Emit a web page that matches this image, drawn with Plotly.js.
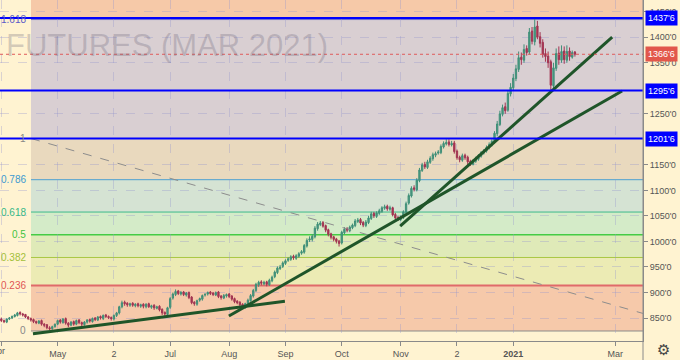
<!DOCTYPE html>
<html><head><meta charset="utf-8">
<script src="https://cdn.plot.ly/plotly-3.0.1.min.js"></script>
<style>html,body{margin:0;padding:0;background:#fff3d1;}#c{width:680px;height:360px;}</style>
</head><body><div id="c"></div>
<script>
// Daily OHLC, bar index 0 = 1 Apr 2020
const opens = [848,845,842,848,850,853,855,861,858,857,852,849,847,843,840,845,838,837,831,829,833,838,846,841,849,840,836,843,838,846,841,837,842,847,843,850,846,853,849,856,853,851,848,855,860,872,881,879,875,879,874,878,873,877,872,878,871,875,869,873,867,861,857,871,889,896,903,897,901,895,900,891,881,877,885,887,895,897,901,899,895,901,893,889,893,897,893,888,883,881,877,871,877,884,893,904,915,921,917,921,915,923,931,939,947,951,957,963,965,971,967,971,977,979,991,1003,1004,1009,1025,1033,1037,1031,1023,1015,1009,1005,1001,997,1017,1025,1021,1027,1031,1039,1043,1037,1031,1037,1045,1055,1049,1055,1059,1065,1069,1063,1066,1053,1047,1043,1047,1057,1075,1089,1105,1101,1119,1139,1151,1145,1155,1162,1169,1173,1174,1185,1191,1195,1189,1193,1177,1165,1159,1169,1165,1157,1151,1157,1161,1167,1173,1177,1183,1189,1195,1211,1229,1249,1264,1257,1289,1301,1319,1337,1361,1355,1378,1371,1412,1391,1422,1401,1390,1368,1363,1352,1305,1339,1369,1355,1373,1355,1373,1361,1371];
const highs = [851,847,849,852,855,858,862,863,860,858,854,851,849,845,846,847,840,838,834,835,839,847,848,850,851,842,844,845,847,848,843,844,848,849,851,852,854,855,857,858,855,853,857,862,874,884,884,881,880,881,879,880,878,879,879,880,876,877,874,875,869,863,872,891,900,906,905,903,903,901,902,893,883,886,890,896,899,902,903,901,902,903,895,897,898,899,895,890,885,883,879,880,888,897,907,919,923,924,923,923,927,933,943,951,954,961,965,969,973,974,975,979,983,995,1006,1010,1014,1030,1038,1040,1040,1033,1025,1017,1011,1007,1003,1021,1028,1028,1031,1035,1044,1046,1046,1040,1042,1050,1058,1058,1059,1064,1069,1072,1072,1070,1068,1056,1050,1051,1061,1078,1094,1108,1110,1124,1144,1154,1156,1160,1167,1174,1176,1179,1190,1196,1200,1200,1197,1197,1180,1168,1172,1172,1168,1160,1161,1166,1171,1177,1181,1188,1194,1200,1216,1236,1256,1268,1272,1296,1310,1328,1346,1372,1370,1386,1384,1418,1420,1437.6,1432,1410,1396,1378,1372,1356,1350,1378,1382,1384,1382,1384,1380,1374,1373];
const lows = [842,840,840,846,848,851,853,855,853,850,846,843,840,838,838,835,832,828,826,827,831,836,839,839,837,832,834,835,836,838,834,835,839,841,841,844,844,847,846,850,848,845,845,852,857,869,874,872,872,872,871,871,870,869,869,870,868,866,867,863,856,854,855,868,886,893,895,894,893,892,887,877,874,874,882,884,892,894,895,893,893,889,886,887,890,889,884,879,877,873,869,868,874,882,890,901,911,914,914,912,913,920,928,936,944,948,954,960,962,964,964,968,974,976,988,999,1000,1006,1021,1030,1027,1018,1010,1004,1000,996,990,994,1014,1018,1018,1024,1028,1036,1032,1028,1028,1034,1042,1046,1046,1052,1056,1062,1060,1060,1049,1042,1040,1040,1044,1054,1072,1086,1098,1098,1116,1136,1142,1142,1152,1158,1165,1170,1171,1182,1188,1186,1186,1172,1160,1155,1156,1160,1150,1148,1149,1154,1158,1164,1170,1174,1180,1186,1192,1206,1226,1245,1250,1254,1284,1296,1314,1332,1346,1350,1364,1366,1386,1384,1396,1380,1360,1352,1340,1296,1300,1334,1346,1350,1348,1350,1354,1358,1362];
const closes = [845,843,848,850,853,856,860,858,856,852,849,846,843,841,844,838,836,831,829,833,838,845,842,848,840,836,842,838,845,841,838,842,846,844,849,847,852,850,855,853,851,849,855,860,872,880,878,876,878,875,877,874,876,873,877,872,874,870,872,866,860,858,870,888,897,902,898,900,896,899,890,880,878,884,888,894,896,900,898,896,900,892,890,894,896,892,887,882,880,876,872,878,885,894,904,916,920,918,920,916,924,930,940,948,950,958,962,966,970,968,972,976,980,992,1002,1005,1010,1026,1034,1036,1030,1022,1014,1008,1004,1000,996,1018,1024,1022,1028,1032,1040,1042,1036,1032,1038,1046,1054,1050,1056,1060,1066,1068,1064,1066,1052,1046,1044,1048,1058,1074,1090,1104,1102,1120,1140,1150,1146,1156,1163,1170,1172,1175,1186,1192,1194,1190,1192,1176,1164,1160,1168,1164,1156,1152,1158,1162,1168,1174,1178,1184,1190,1196,1212,1230,1250,1262,1256,1290,1302,1320,1338,1360,1356,1376,1370,1410,1392,1420,1400,1388,1366,1362,1350,1306,1340,1368,1356,1372,1356,1372,1362,1370,1366.6];

// time axis ticks (bar index of first labelled day)
const monthTickIdx = [0,21,42,63,85,106,127,149,170,191,229];
const monthTickText = ['Apr','May','2','Jul','Aug','Sep','Oct','Nov','2','<b>2021</b>','Mar'];

// price axis ticks
const priceTicks = [850,900,950,1000,1050,1100,1150,1250,1350,1400,1450];
const priceTickText = ["850'0","900'0","950'0","1000'0","1050'0","1100'0","1150'0","1250'0","1350'0","1400'0","1450'0"];

// Fibonacci retracement
const fibStartIdx = 11.07;
const fibPrice0 = 824.6, fibPrice1 = 1201.6;
const fibRatios = [0, 0.236, 0.382, 0.5, 0.618, 0.786, 1, 1.618];
const fibText = ['0','0.236','0.382','0.5','0.618','0.786','1','1.618'];
const fibLineColors = ['#8a8a8a','#e06a6a','#a9c743','#45cc45','#3db98c','#4a9fd0','#8a8a8a','#6a6ad0'];
const fibLabelColors = ['#888888','#e05555','#a3bf3a','#3fc23f','#35b888','#3c9ad0','#888888','#5a5ac8'];
const fibZoneColors = ['#f6c9aa','#ecebb4','#dfeab8','#d4ebc8','#d5e3d3','#e9d9be','#d9cfd2','#f6c9a8'];
const fibDiag = [[11.07, 1201.6], [239.4, 859]];

// horizontal levels
const hLevels = [1437.6, 1295.6, 1201.6];
const hLevelText = ["1437'6", "1295'6", "1201'6"];
const lastPrice = 1366.6, lastPriceText = "1366'6";

// trend lines [idx0, price0, idx1, price1]
const trendLines = [[11.8, 819, 105.8, 883], [84.9, 854, 231.6, 1294.6], [148.8, 1030, 227.9, 1400.4]];

const xIdx = closes.map((_, i) => i);
const fibPrices = fibRatios.map(r => fibPrice0 + r * (fibPrice1 - fibPrice0));

const traces = [];
traces.push({
  type: 'scatter', mode: 'lines', x: fibDiag.map(p => p[0]), y: fibDiag.map(p => p[1]),
  line: {color: '#8d8d8d', width: 1, dash: 'dash'}, hoverinfo: 'skip', showlegend: false
});
traces.push({
  type: 'candlestick', x: xIdx, open: opens, high: highs, low: lows, close: closes,
  increasing: {line: {color: '#3f8f78', width: 1}, fillcolor: '#4c9c84'},
  decreasing: {line: {color: '#a23552', width: 1}, fillcolor: '#a8314f'},
  whiskerwidth: 0, showlegend: false, hoverinfo: 'skip'
});
trendLines.forEach(t => traces.push({
  type: 'scatter', mode: 'lines', x: [t[0], t[2]], y: [t[1], t[3]],
  line: {color: '#1f5529', width: 3}, hoverinfo: 'skip', showlegend: false
}));

const shapes = [];
const zoneBounds = [];
for (let k = 0; k < fibPrices.length - 1; k++) zoneBounds.push([fibPrices[k], fibPrices[k + 1]]);
zoneBounds.push([fibPrices[fibPrices.length - 1], 1600]);
zoneBounds.forEach((b, k) => shapes.push({
  type: 'rect', xref: 'x', yref: 'y', x0: fibStartIdx, x1: 260, y0: b[0], y1: b[1],
  fillcolor: fibZoneColors[k], line: {width: 0}, layer: 'below'
}));
fibPrices.forEach((p, k) => shapes.push({
  type: 'line', xref: 'x', yref: 'y', x0: fibStartIdx, x1: 260, y0: p, y1: p,
  line: {color: fibLineColors[k], width: k === 1 ? 2 : (k === 3 ? 1.5 : 1)}, layer: 'below'
}));
hLevels.forEach(p => shapes.push({
  type: 'line', xref: 'paper', yref: 'y', x0: 0, x1: 1, y0: p, y1: p,
  line: {color: '#0000ff', width: 2}
}));
shapes.push({type: 'line', xref: 'paper', yref: 'y', x0: 0, x1: 1, y0: lastPrice, y1: lastPrice,
  line: {color: '#e05a5a', width: 1, dash: 'dot'}});
shapes.push({type: 'line', xref: 'paper', yref: 'paper', x0: 1, x1: 1, y0: -0.06, y1: 1,
  line: {color: '#8a8a8a', width: 1}});

const annotations = [];
fibPrices.forEach((p, k) => annotations.push({
  xref: 'x', yref: 'y', x: fibStartIdx, y: p, text: fibText[k], showarrow: false,
  xanchor: 'right', yanchor: 'middle', xshift: -3,
  font: {family: 'Liberation Sans, Arial, sans-serif', size: 10, color: fibLabelColors[k]}
}));
hLevels.forEach((p, k) => annotations.push({
  xref: 'paper', yref: 'y', x: 1, y: p, text: hLevelText[k], showarrow: false,
  xanchor: 'left', yanchor: 'middle', xshift: 2, bgcolor: '#0000ff', borderpad: 2,
  font: {family: 'Liberation Sans, Arial, sans-serif', size: 9, color: '#ffffff'}
}));
annotations.push({
  xref: 'paper', yref: 'y', x: 1, y: lastPrice, text: lastPriceText, showarrow: false,
  xanchor: 'left', yanchor: 'middle', xshift: 2, bgcolor: '#e2574b', borderpad: 2,
  font: {family: 'Liberation Sans, Arial, sans-serif', size: 9, color: '#ffffff'}
});
annotations.push({
  xref: 'paper', yref: 'paper', x: 0, y: 1 - 45 / 341, text: 'FUTURES (MAR 2021)', showarrow: false,
  xanchor: 'left', yanchor: 'middle', xshift: 4,
  font: {family: 'Liberation Sans, Arial, sans-serif', size: 31, color: 'rgba(105,100,120,0.28)'}
});
// first month label, clipped at the left edge as in the reference
annotations.push({
  xref: 'x', yref: 'paper', x: monthTickIdx[0], y: -10 / 341, text: monthTickText[0], showarrow: false,
  xanchor: 'center', yanchor: 'middle', xshift: -3,
  font: {family: 'Liberation Sans, Arial, sans-serif', size: 9, color: '#555555'}
});
annotations.push({
  xref: 'paper', yref: 'paper', x: 663 / 643, y: -9 / 341, text: '\u2699', showarrow: false,
  xanchor: 'center', yanchor: 'middle',
  font: {family: 'DejaVu Sans, sans-serif', size: 15, color: '#444444'}
});

const layout = {
  width: 680, height: 360,
  margin: {l: 0, r: 37, t: 0, b: 19, pad: 0},
  paper_bgcolor: '#fff3d1', plot_bgcolor: '#fff3d1',
  showlegend: false, dragmode: false,
  xaxis: {
    range: [-0.5, 239.4], rangeslider: {visible: false},
    tickmode: 'array', tickvals: monthTickIdx, ticktext: monthTickText,
    ticks: 'outside', ticklen: 4, tickcolor: '#8a8a8a',
    tickfont: {family: 'Liberation Sans, Arial, sans-serif', size: 9, color: '#555555'},
    showgrid: true, gridcolor: 'rgba(150,150,205,0.35)', griddash: 'dash', gridwidth: 1,
    showline: true, linecolor: '#8a8a8a', linewidth: 1, zeroline: false, fixedrange: true
  },
  yaxis: {
    range: [805, 1472.9], side: 'right',
    tickmode: 'array', tickvals: priceTicks, ticktext: priceTickText,
    ticks: 'outside', ticklen: 4, tickcolor: '#8a8a8a',
    tickfont: {family: 'Liberation Sans, Arial, sans-serif', size: 9, color: '#555555'},
    showgrid: true, gridcolor: 'rgba(150,150,205,0.35)', griddash: 'dash', gridwidth: 1,
    showline: true, linecolor: '#8a8a8a', linewidth: 1, zeroline: false, fixedrange: true
  },
  shapes: shapes, annotations: annotations
};

Plotly.newPlot('c', traces, layout, {staticPlot: true, displayModeBar: false});
</script>
</body></html>
